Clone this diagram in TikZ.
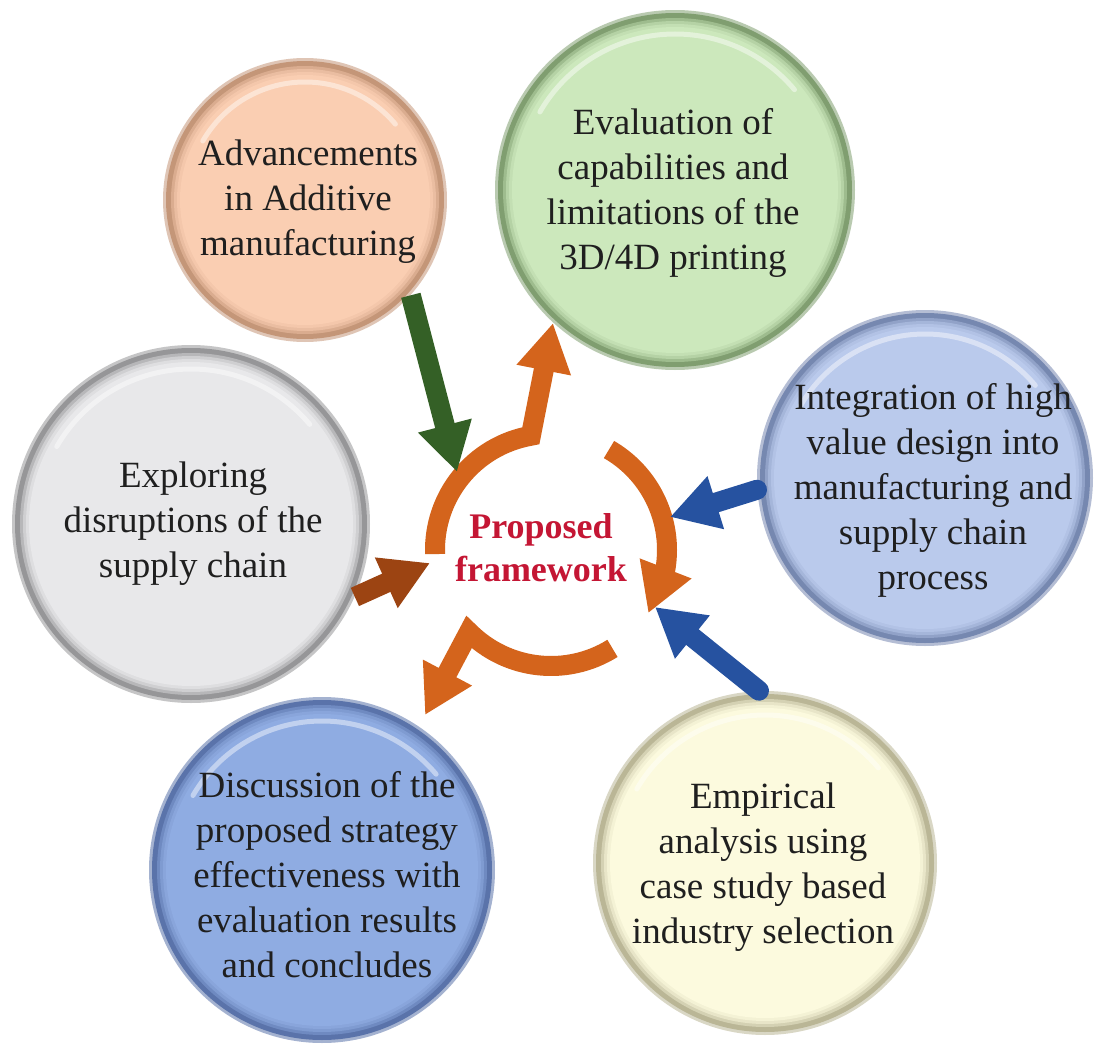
\documentclass[tikz,border=0pt]{standalone}
\usepackage{fontspec}
\setmainfont{Liberation Serif}
\usetikzlibrary{arrows.meta,bending}
\definecolor{peachM}{RGB}{250,206,178}\definecolor{peachR}{RGB}{196,150,120}
\definecolor{greenM}{RGB}{204,232,188}\definecolor{greenR}{RGB}{128,158,112}
\definecolor{intM}{RGB}{186,202,236}\definecolor{intR}{RGB}{118,136,176}
\definecolor{yelM}{RGB}{252,250,222}\definecolor{yelR}{RGB}{186,182,150}
\definecolor{discM}{RGB}{143,172,226}\definecolor{discR}{RGB}{90,115,170}
\definecolor{grayM}{RGB}{232,232,234}\definecolor{grayR}{RGB}{150,150,152}
\definecolor{orangeA}{RGB}{212,100,28}
\definecolor{greenA}{RGB}{52,96,38}
\definecolor{blueA}{RGB}{38,82,160}
\definecolor{brownA}{RGB}{156,68,18}
\definecolor{redT}{RGB}{196,22,52}
\newcommand\btncircle[6]{%
  \fill[#6!55!white] (#2,#3) circle[radius=#4];
  \fill[#6] (#2,#3) circle[radius=#4-3];
  \fill[#6!60!#5] (#2,#3) circle[radius=#4-8];
  \fill[#6!30!#5] (#2,#3) circle[radius=#4-11];
  \fill[#6!12!#5] (#2,#3) circle[radius=#4-14];
  \fill[#5] (#2,#3) circle[radius=#4-17];
  \draw[white, opacity=0.45, line width=2.5pt, line cap=round]
    ([shift={(#2,#3)}]-150:{#4-24}) arc[start angle=-150, end angle=-40, radius=#4-24];
  \node[circle, inner sep=0pt, minimum size=#4pt] (#1) at (#2,#3) {};
}
\tikzset{
  txt/.style={align=center, font=\fontsize{18.5}{22.5}\selectfont, text=black!88},
  ring/.style={draw=orangeA, line width=10pt},
  bigtip/.style={-{Triangle[length=24pt,width=26pt]}},
  garrow/.style={draw=greenA, line width=10pt, bigtip},
  brarrow/.style={draw=brownA, line width=10pt, bigtip},
  blarrow/.style={draw=blueA, line width=10pt, line cap=round, bigtip},
}
\begin{document}
\begin{tikzpicture}[x=0.5pt,y=-0.5pt]
\useasboundingbox (0,0) rectangle (1105,1044);
\fill[white] (0,0) rectangle (1105,1044);
% circles
\btncircle{peach}{305}{200}{142}{peachM}{peachR}
\btncircle{green}{675}{190}{180}{greenM}{greenR}
\btncircle{integ}{925}{478}{168}{intM}{intR}
\btncircle{emp}{765}{863}{172}{yelM}{yelR}
\btncircle{disc}{322}{870}{173}{discM}{discR}
\btncircle{gray}{191}{524}{179}{grayM}{grayR}
% texts
\node[txt] (tpeach) at (308,202) {Advancements\\in Additive\\manufacturing};
\node[txt] (tgreen) at (673,193) {Evaluation of\\capabilities and\\limitations of the\\3D/4D printing};
\node[txt] (tinteg) at (933,490) {Integration of high\\value design into\\manufacturing and\\supply chain\\process};
\node[txt] (temp) at (763,867) {Empirical\\analysis using\\case study based\\industry selection};
\node[txt] (tdisc) at (327,875) {Discussion of the\\proposed strategy\\effectiveness with\\evaluation results\\and concludes};
\node[txt] (tgray) at (193,524) {Exploring\\disruptions of the\\supply chain};
% centre
\coordinate (rc) at (551,550);
\node[align=center, font=\fontsize{18}{21.5}\selectfont\bfseries, text=redT] (pf) at (541,548) {Proposed\\framework};
\coordinate (tipA) at (553,323);
\coordinate (tipC) at (425,715);
\draw[ring, bigtip] ([shift={(rc)}]-182:116) arc[start angle=-182, end angle=-100, radius=116] -- (tipA);
\draw[ring, bigtip] ([shift={(rc)}]-60:116) arc[start angle=-60, end angle=33, radius=116];
\draw[ring, bigtip] ([shift={(rc)}]58:116) arc[start angle=58, end angle=135, radius=116] -- (tipC);
% incoming arrows
\coordinate (gtip) at (457,472);
\coordinate (btip) at (430,563);
\coordinate (bl1) at (670,517);
\coordinate (bl2) at (655,607);
\draw[garrow] (peach.-42) -- (gtip);
\draw[brarrow] (gray.-24) -- (btip);
\draw[blarrow] (integ.184) -- (bl1);
\draw[blarrow] (emp.92) -- (bl2);
\end{tikzpicture}
\end{document}
